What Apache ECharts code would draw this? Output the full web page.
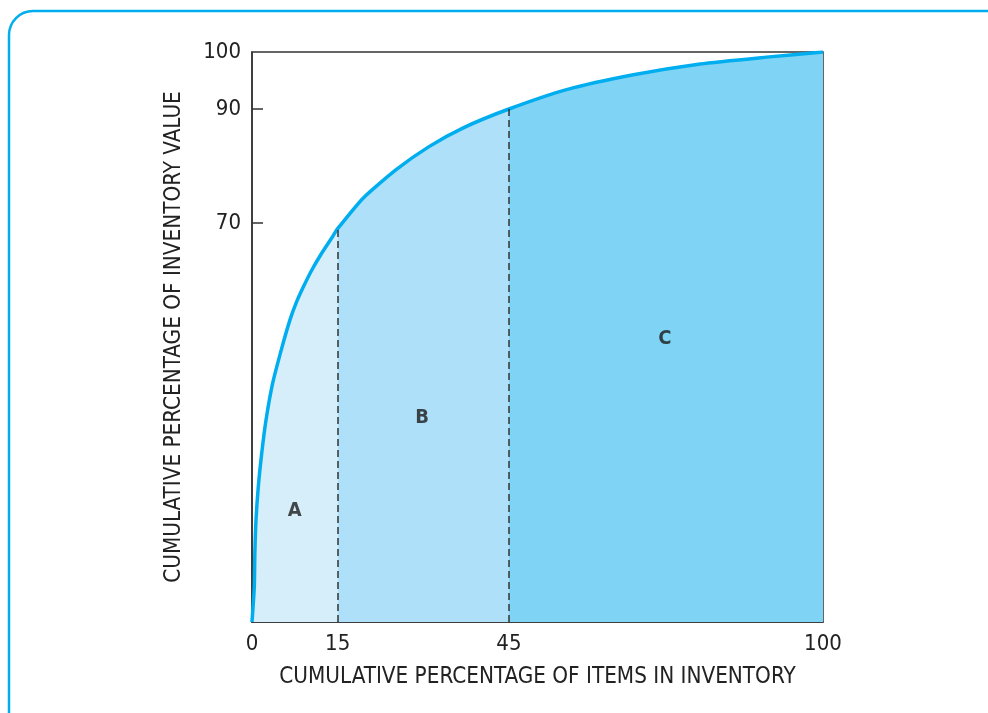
<!DOCTYPE html>
<html><head><meta charset="utf-8">
<script src="https://cdn.jsdelivr.net/npm/echarts@6/dist/echarts.min.js"></script>
<style>html,body{margin:0;padding:0;background:#fff}#c{width:988px;height:713px}</style>
</head><body><div id="c"></div>
<script>
// Cumulative % of items (x) and cumulative % of inventory value (y)
const itemsPct = [0, 0.4, 0.5, 0.7, 1.1, 1.7, 2.45, 3.6, 5.2, 6.65, 7.7, 9.0, 10.5, 12.2, 14.1, 15, 19.5, 25.3, 31, 37, 45, 55.1, 66.8, 78.5, 90.1, 100];
const valuePct = [0, 6.2, 12.1, 17.9, 23.7, 29.6, 35.4, 41.8, 48, 53, 55.9, 58.8, 61.8, 64.7, 67.6, 69.0, 74.4, 79.4, 83.4, 86.7, 90, 93.4, 96.0, 97.9, 99.1, 100];
const classBounds = [15, 45];       // A | B | C split on x
const classNames = ['A', 'B', 'C'];
const classLabelX = [7.5, 29.8, 72.3];
const classLabelY = [19.5, 35.8, 49.6];
const xTickLabels = [0, 15, 45, 100];
const yTickLabels = [70, 90, 100];
const areaColors = ['#d6edfa', '#aee0f9', '#7fd3f5'];

const pts = itemsPct.map((x, i) => [x, valuePct[i]]);
const seg = (lo, hi) => pts.filter(p => p[0] >= lo && p[0] <= hi);
const segs = [seg(0, classBounds[0]), seg(classBounds[0], classBounds[1]), seg(classBounds[1], 100)];
const yAt = x => valuePct[itemsPct.indexOf(x)];

const font = '"DejaVu Sans Condensed", "Liberation Sans Narrow", "DejaVu Sans", sans-serif';
const SM = 0.2;
const chart = echarts.init(document.getElementById('c'));
const series = segs.map((d, i) => ({
  type: 'line', data: d, symbol: 'none', smooth: SM,
  lineStyle: { width: 0 }, areaStyle: { color: areaColors[i], opacity: 1 }, z: 2, silent: true
}));
series.push({
  type: 'line', data: pts, symbol: 'none', smooth: SM, z: 4,
  lineStyle: { color: '#00aeef', width: 3.5 },
  markLine: {
    silent: true, symbol: 'none', label: { show: false },
    lineStyle: { color: '#333', width: 1.5, type: [7, 4] },
    data: classBounds.map(b => [{ coord: [b, 0] }, { coord: [b, yAt(b)] }])
  }
});
series.push({
  type: 'scatter', symbolSize: 0, z: 5,
  data: classNames.map((n, i) => ({ value: [classLabelX[i], classLabelY[i]], name: n })),
  label: { show: true, position: 'inside', formatter: p => p.name, fontFamily: font, fontWeight: 'bold', fontSize: 20, color: '#1a1a1a' }
});

chart.setOption({
  animation: false,
  grid: { left: 252, top: 52, right: 165, bottom: 91, show: true, borderColor: '#333', borderWidth: 1.5, backgroundColor: 'transparent' },
  xAxis: {
    type: 'value', min: 0, max: 100,
    name: 'CUMULATIVE PERCENTAGE OF ITEMS IN INVENTORY', nameLocation: 'middle', nameGap: 44,
    nameTextStyle: { fontFamily: font, fontSize: 22.3, color: '#222' },
    axisLine: { show: true, lineStyle: { color: '#333', width: 1.5 } },
    axisTick: { show: false },
    splitLine: { show: false },
    axisLabel: { customValues: xTickLabels, margin: 11, fontFamily: font, fontSize: 22, color: '#222' }
  },
  yAxis: {
    type: 'value', min: 0, max: 100,
    name: 'CUMULATIVE PERCENTAGE OF INVENTORY VALUE', nameLocation: 'middle', nameGap: 67, nameRotate: 90,
    nameTextStyle: { fontFamily: font, fontSize: 22.3, color: '#222' },
    axisLine: { show: true, lineStyle: { color: '#333', width: 1.5 } },
    axisTick: { show: true, inside: true, length: 11, customValues: [70, 90], lineStyle: { color: '#333', width: 1.5 } },
    splitLine: { show: false },
    axisLabel: { customValues: yTickLabels, margin: 11, fontFamily: font, fontSize: 22, color: '#222' }
  },
  graphic: [{
    type: 'rect', shape: { x: 9, y: 11, width: 1010, height: 740, r: 24 },
    style: { fill: 'none', stroke: '#00aeef', lineWidth: 2.5 }, z: 0, silent: true
  }],
  series: series
});
</script></body></html>
